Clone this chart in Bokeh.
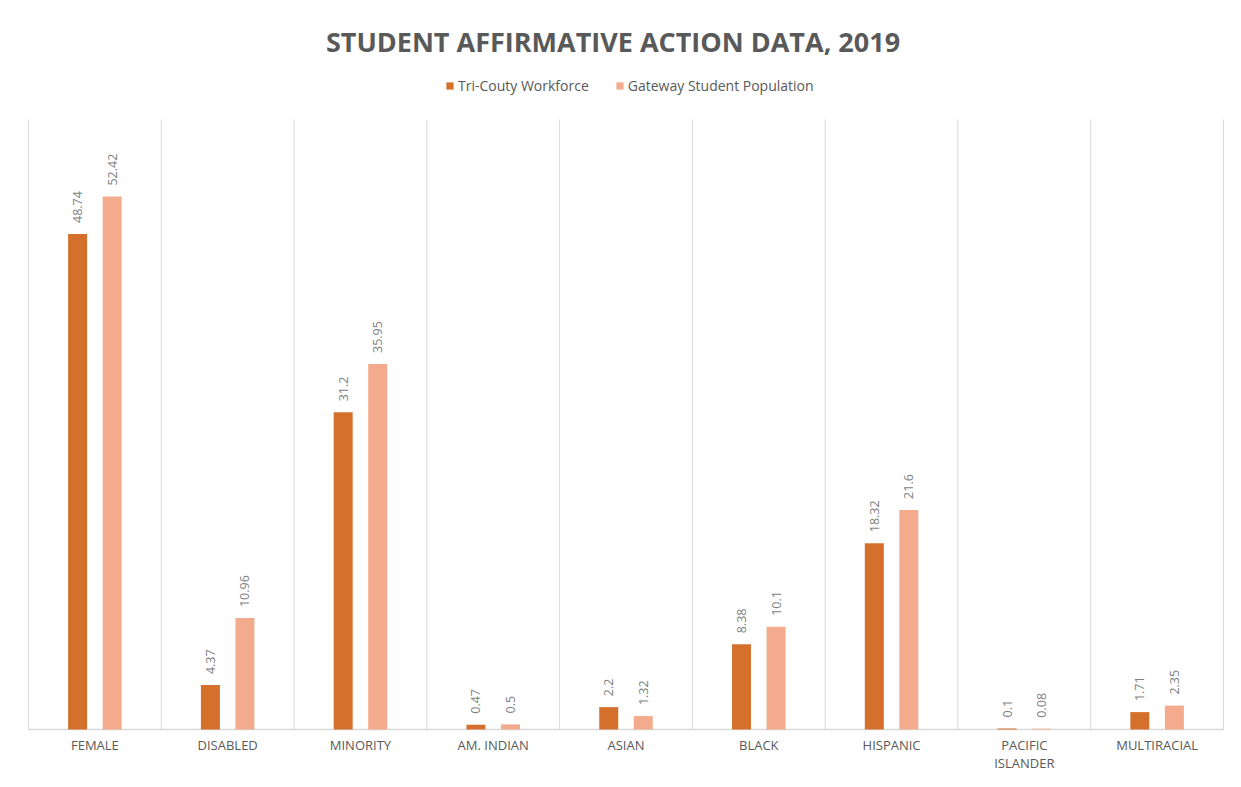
import math
from bokeh.plotting import figure
from bokeh.models import (ColumnDataSource, Range1d, Legend, LegendItem, Title)
from bokeh.transform import dodge
from bokeh.core.properties import value
from bokeh.embed import file_html
from bokeh.resources import INLINE

categories = ["FEMALE", "DISABLED", "MINORITY", "AM. INDIAN", "ASIAN", "BLACK",
              "HISPANIC", "PACIFIC\nISLANDER", "MULTIRACIAL"]
workforce = [48.74, 4.37, 31.2, 0.47, 2.2, 8.38, 18.32, 0.1, 1.71]
gateway = [52.42, 10.96, 35.95, 0.5, 1.32, 10.1, 21.6, 0.08, 2.35]
series_names = ["Tri-Couty Workforce", "Gateway Student Population"]
y_max = 60

ORANGE = "#D4702C"
PINK = "#F4AA8C"
GRID = "#D9D9D9"
FONT = "Open Sans"

n = len(categories)
xs = [i + 0.5 for i in range(n)]
src = ColumnDataSource(dict(
    x=xs, w=workforce, g=gateway, cat=categories, zero=[0] * n,
    wl=[str(v) for v in workforce], gl=[str(v) for v in gateway],
))
bounds = ColumnDataSource(dict(x=list(range(n + 1)), y0=[0] * (n + 1), y1=[y_max] * (n + 1)))

# frame: 1195 px for n categories, 610 px for 0..60
kx = 1195 / n
ky = 610 / y_max
p = figure(width=1225, height=771,
           x_range=Range1d(-28 / kx, n + 2 / kx),
           y_range=Range1d(-42 / ky, y_max + 58 / ky),
           output_backend="svg", toolbar_location=None, title=None,
           min_border_left=0, min_border_right=0, min_border_top=61, min_border_bottom=0)
p.outline_line_color = None
p.background_fill_color = "white"
p.border_fill_color = "white"
p.xaxis.visible = False
p.yaxis.visible = False
p.xgrid.grid_line_color = None
p.ygrid.grid_line_color = None

# category boundaries and baseline
p.segment(x0="x", y0="y0", x1="x", y1="y1", source=bounds, line_color=GRID, line_width=1)
p.segment(x0=[0], y0=[0], x1=[n], y1=[0], line_color=GRID, line_width=1.5)

off = 0.13
bw = 0.143
r1 = p.vbar(x=dodge("x", -off, range=p.x_range), top="w", width=bw, source=src,
            fill_color=ORANGE, line_color=None)
r2 = p.vbar(x=dodge("x", off, range=p.x_range), top="g", width=bw, source=src,
            fill_color=PINK, line_color=None)

for col, lab, dx in (("w", "wl", -off), ("g", "gl", off)):
    p.text(x=dodge("x", dx, range=p.x_range), y=col, text=lab, source=src,
           angle=math.pi / 2, text_align="left", text_baseline="middle", y_offset=-11,
           text_font=value(FONT), text_font_size="12.5px", text_color="#7F7F7F")

# category labels
p.text(x="x", y="zero", text="cat", source=src, text_align="center", text_baseline="top",
       y_offset=6, text_line_height=1.0,
       text_font=value(FONT), text_font_size="13px", text_color="#595959")

legend = Legend(items=[LegendItem(label=series_names[0], renderers=[r1]),
                       LegendItem(label=series_names[1], renderers=[r2])],
                orientation="horizontal", location=(445, 676),
                glyph_width=9, glyph_height=9, label_standoff=4, spacing=26,
                label_text_font=FONT, label_text_font_size="14px", label_text_color="#595959",
                border_line_color=None, background_fill_alpha=0, margin=0, padding=8)
p.add_layout(legend, "center")
p.add_layout(Title(text="STUDENT AFFIRMATIVE ACTION DATA, 2019", align="center",
                   text_font=FONT, text_font_size="27px", text_font_style="bold",
                   text_color="#595959", standoff=3), "above")

open("out.html", "w").write(file_html(p, INLINE))
